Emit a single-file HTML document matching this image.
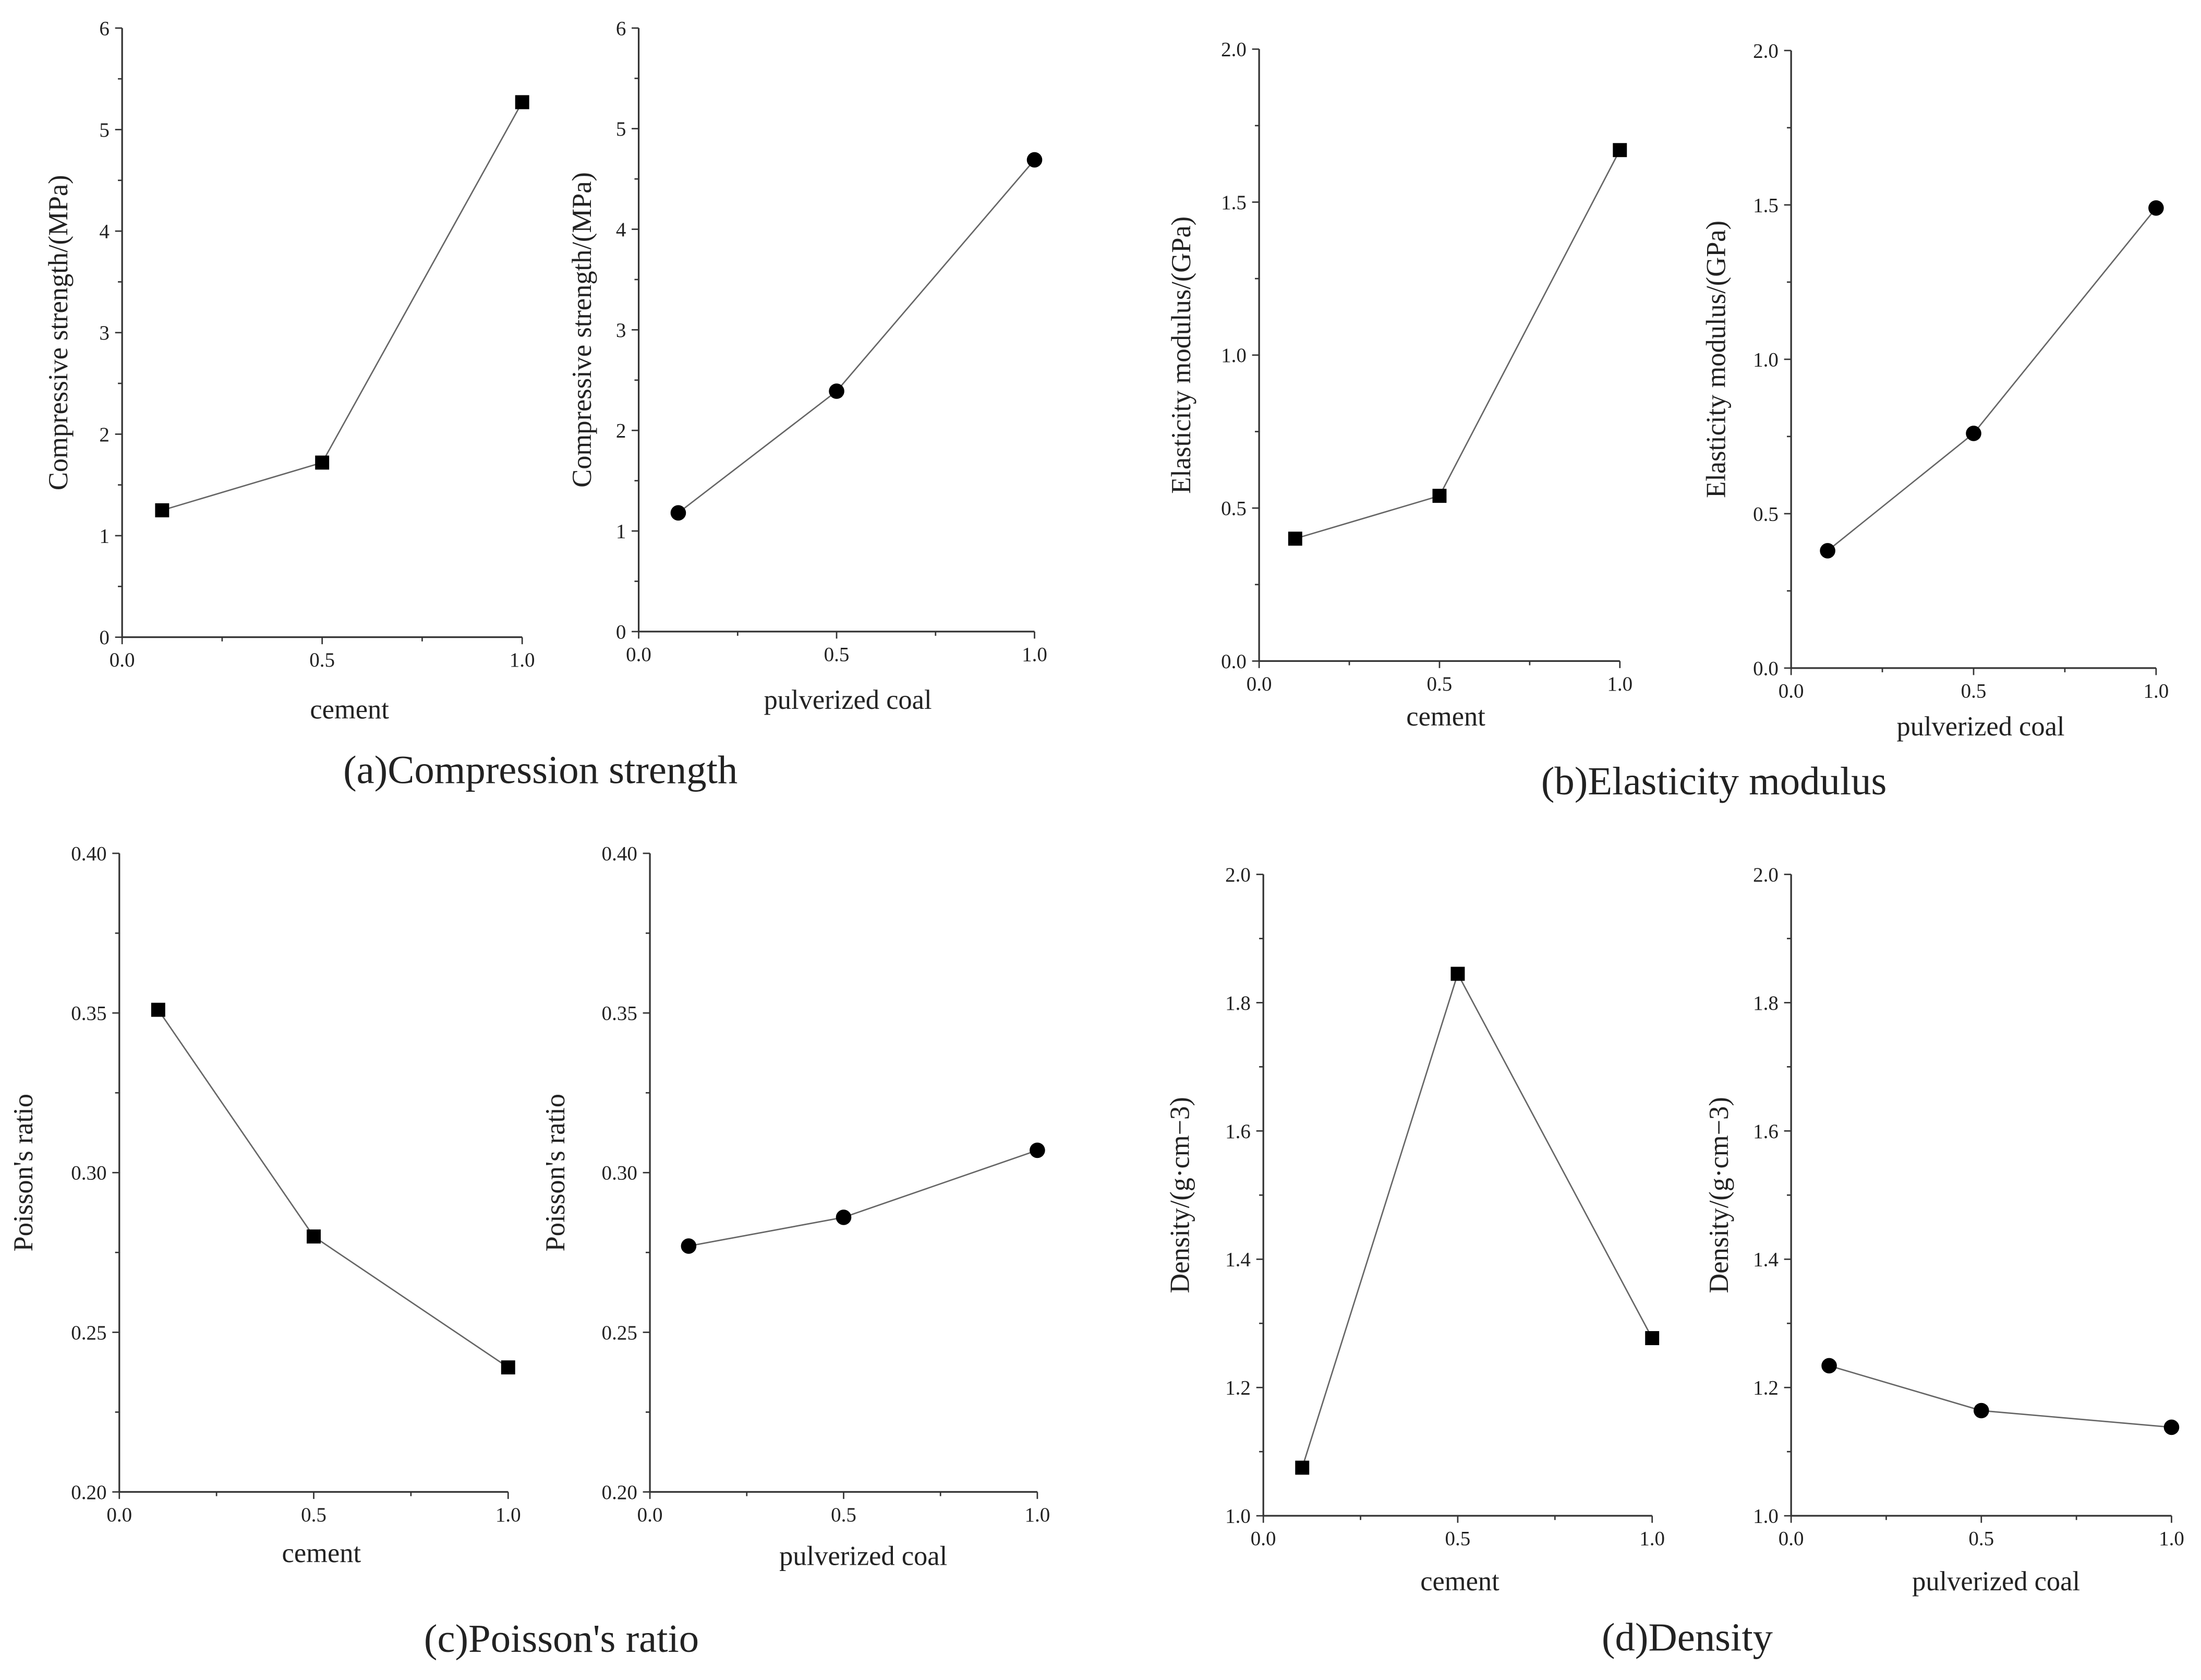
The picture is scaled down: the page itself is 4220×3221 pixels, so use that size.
<!DOCTYPE html>
<html><head><meta charset="utf-8"><style>
html,body{margin:0;padding:0;background:#fff}
svg{display:block}
text{font-family:"Liberation Serif",serif;fill:#222}
</style></head><body>
<svg id="c" width="4220" height="3221" viewBox="0 0 1568 1197" preserveAspectRatio="none" xmlns="http://www.w3.org/2000/svg"></svg>
<script>
const xCats=[0.1,0.5,1.0];
const xTicks=["0.0","0.5","1.0"];
const csCement=[1.25,1.72,5.27];
const csCoal=[1.18,2.39,4.69];
const emCement=[0.40,0.54,1.67];
const emCoal=[0.38,0.76,1.49];
const prCement=[0.351,0.280,0.239];
const prCoal=[0.277,0.286,0.307];
const dnCement=[1.075,1.845,1.277];
const dnCoal=[1.234,1.164,1.138];
const ticksA=["0","1","2","3","4","5","6"];
const ticksB=["0.0","0.5","1.0","1.5","2.0"];
const ticksC=["0.20","0.25","0.30","0.35","0.40"];
const ticksD=["1.0","1.2","1.4","1.6","1.8","2.0"];
const panels=[
{n:"cs-cement",x0:87,x1:372,yt:20,yb:454,ymin:0,ymax:6,yt_l:ticksA,d:csCement,m:"sq",xl:"cement",xlx:249,xly:506,yl:"Compressive strength/(MPa)",ylx:42},
{n:"cs-coal",x0:455,x1:737,yt:20,yb:450,ymin:0,ymax:6,yt_l:ticksA,d:csCoal,m:"ci",xl:"pulverized coal",xlx:604,xly:499,yl:"Compressive strength/(MPa)",ylx:415},
{n:"em-cement",x0:897,x1:1154,yt:35,yb:471,ymin:0,ymax:2,yt_l:ticksB,d:emCement,m:"sq",xl:"cement",xlx:1030,xly:511,yl:"Elasticity modulus/(GPa)",ylx:842},
{n:"em-coal",x0:1276,x1:1536,yt:36,yb:476,ymin:0,ymax:2,yt_l:ticksB,d:emCoal,m:"ci",xl:"pulverized coal",xlx:1411,xly:518,yl:"Elasticity modulus/(GPa)",ylx:1223},
{n:"pr-cement",x0:85,x1:362,yt:608,yb:1063,ymin:0.2,ymax:0.4,yt_l:ticksC,d:prCement,m:"sq",xl:"cement",xlx:229,xly:1107,yl:"Poisson's ratio",ylx:17},
{n:"pr-coal",x0:463,x1:739,yt:608,yb:1063,ymin:0.2,ymax:0.4,yt_l:ticksC,d:prCoal,m:"ci",xl:"pulverized coal",xlx:615,xly:1109,yl:"Poisson's ratio",ylx:396},
{n:"dn-cement",x0:900,x1:1177,yt:623,yb:1080,ymin:1,ymax:2,yt_l:ticksD,d:dnCement,m:"sq",xl:"cement",xlx:1040,xly:1127,yl:"Density/(g·cm−3)",ylx:841},
{n:"dn-coal",x0:1276,x1:1547,yt:623,yb:1080,ymin:1,ymax:2,yt_l:ticksD,d:dnCoal,m:"ci",xl:"pulverized coal",xlx:1422,xly:1127,yl:"Density/(g·cm−3)",ylx:1225}
];
const captions=[["(a)Compression strength",385,549],["(b)Elasticity modulus",1221,557],["(c)Poisson's ratio",400,1168],["(d)Density",1202,1167]];
const svg=document.getElementById('c');
const NS="http://www.w3.org/2000/svg";
function el(t,a,p){const e=document.createElementNS(NS,t);for(const k in a)e.setAttribute(k,a[k]);(p||svg).appendChild(e);return e;}
panels.forEach(p=>{
  const g=el('g',{});
  
  
  const sx=v=>p.x0+(p.x1-p.x0)*v;
  const sy=v=>p.yb-(p.yb-p.yt)*(v-p.ymin)/(p.ymax-p.ymin);
  const ax=el('path',{d:`M${p.x0},${p.yt}V${p.yb}H${p.x1}`,stroke:'#333','stroke-width':1.2,fill:'none'},g);
  
  
  const nY=p.yt_l.length;
  p.yt_l.forEach((t,i)=>{
    const y=p.yb-(p.yb-p.yt)*i/(nY-1);
    el('line',{x1:p.x0-5,x2:p.x0,y1:y,y2:y,stroke:'#333','stroke-width':1},g);
    if(i<nY-1){const ym=p.yb-(p.yb-p.yt)*(i+0.5)/(nY-1);el('line',{x1:p.x0-3,x2:p.x0,y1:ym,y2:ym,stroke:'#333','stroke-width':1},g);}
    const tx=el('text',{x:p.x0-9,y:y+5,'text-anchor':'end','font-size':14.5},g);tx.textContent=t;
    
    
  });
  xTicks.forEach((t,i)=>{
    const x=p.x0+(p.x1-p.x0)*i/2;
    el('line',{x1:x,x2:x,y1:p.yb,y2:p.yb+5,stroke:'#333','stroke-width':1},g);
    if(i<2){const xm=p.x0+(p.x1-p.x0)*(i+0.5)/2;el('line',{x1:xm,x2:xm,y1:p.yb,y2:p.yb+3,stroke:'#333','stroke-width':1},g);}
    const tx=el('text',{x:x,y:p.yb+21,'text-anchor':'middle','font-size':14.5},g);tx.textContent=t;
    
    
  });
  const xl=el('text',{x:p.xlx,y:p.xly+6,'text-anchor':'middle','font-size':19.5},g);xl.textContent=p.xl;
  
  
  const yc=(p.yt+p.yb)/2;
  const yl=el('text',{x:p.ylx+6,y:yc,'text-anchor':'middle','font-size':19.5,transform:`rotate(-90 ${p.ylx+6} ${yc})`},g);yl.textContent=p.yl;
  
  
  const pts=p.d.map((v,i)=>[sx(xCats[i]),sy(v)]);
  const ln=el('polyline',{points:pts.map(q=>q.join(',')).join(' '),stroke:'#666','stroke-width':1,fill:'none'},g);
  
  
  pts.forEach(q=>{
    let m;
    if(p.m==='sq')m=el('rect',{x:q[0]-5,y:q[1]-5,width:10,height:10,fill:'#000'},g);
    else m=el('circle',{cx:q[0],cy:q[1],r:5.5,fill:'#000'},g);
    
    
  });
});
captions.forEach(c=>{
  const t=el('text',{x:c[1],y:c[2]+9,'text-anchor':'middle','font-size':28.5});t.textContent=c[0];
  
  
});
</script>
</body></html>
